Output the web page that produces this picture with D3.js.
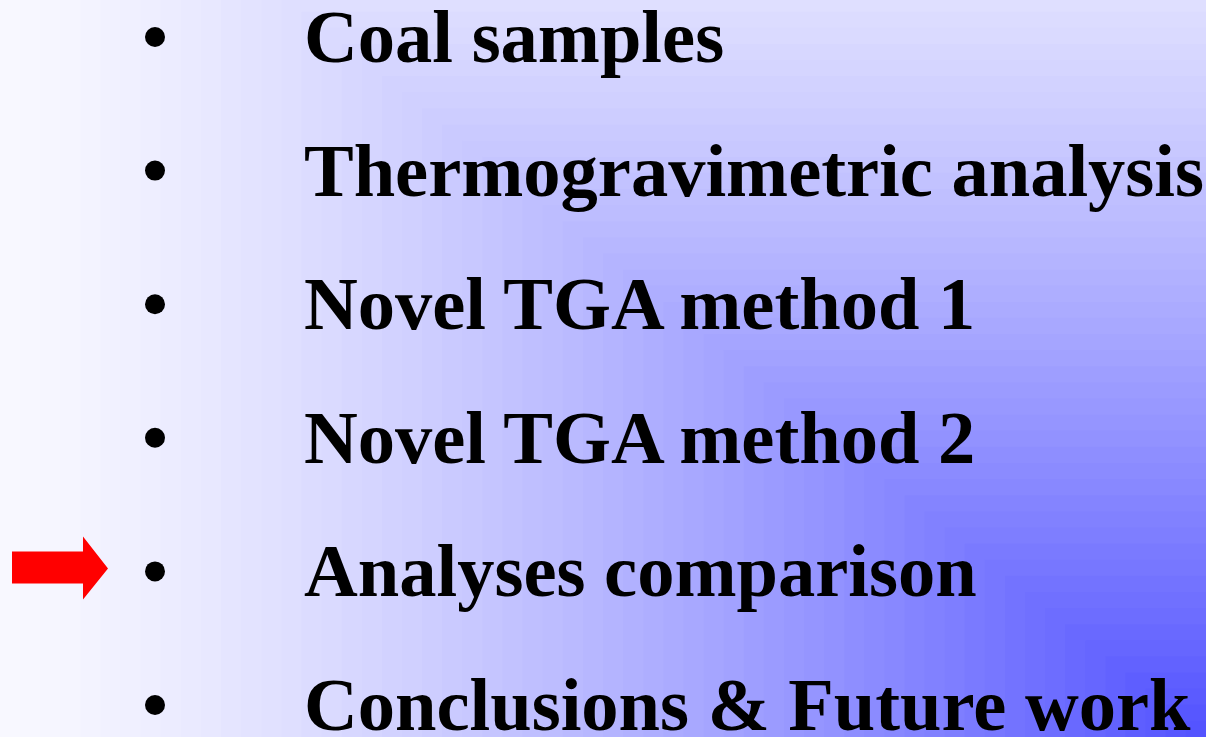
<!DOCTYPE html>
<html>
<head>
<meta charset="utf-8">
<script src="https://cdn.jsdelivr.net/npm/d3@7"></script>
<style>
  html, body { margin: 0; padding: 0; overflow: hidden; }
  svg { display: block; }
</style>
</head>
<body>
<svg id="slide"></svg>
<script>
// outline items of the slide, the current one gets the red arrow
const items = [
  'Coal samples',
  'Thermogravimetric analysis',
  'Novel TGA method 1',
  'Novel TGA method 2',
  'Analyses comparison',
  'Conclusions & Future work'
];
const current = ['Analyses comparison'];

(function() {

const width = 1206;
const height = 737;

const svg = d3.select('#slide')
  .attr('width', width)
  .attr('height', height);

// corner gradient background (light lavender -> blue at bottom right)
const light = '#f8f8ff';
const dark = '#5050ff';
const shade = d3.scaleLinear()
  .domain([0, 1])
  .range([light, dark])
  .interpolate(d3.interpolateRgb);

const steps = d3.range(0, 1, 1 / 60);
const yOff = 230;

svg.append('g')
  .selectAll('rect')
  .data(steps)
  .enter().append('rect')
    .attr('x', s => s * width)
    .attr('y', s => Math.max(0, s * (height + yOff) - yOff))
    .attr('width', s => width - s * width)
    .attr('height', s => height - Math.max(0, s * (height + yOff) - yOff))
    .attr('fill', s => shade(Math.pow(s, 1.3)));

// rows
const y = d3.scalePoint()
  .domain(items)
  .range([62, 730]);

const row = svg.selectAll('.row')
  .data(items)
  .enter().append('g')
    .attr('class', 'row')
    .attr('transform', d => `translate(0,${y(d)})`);

row.append('circle')
  .attr('cx', 155)
  .attr('cy', -25)
  .attr('r', 10)
  .attr('fill', '#000');

row.append('text')
  .attr('x', 304)
  .attr('y', 0)
  .style('font-family', '"Liberation Serif", "Times New Roman", serif')
  .style('font-weight', 'bold')
  .style('font-size', '74.5px')
  .attr('fill', '#000')
  .text(d => d);

// red block arrow pointing at the current item
row.filter(d => current.includes(d))
  .append('path')
    .attr('d', 'M12,-45 L83,-45 L83,-60 L108,-28 L83,3 L83,-13 L12,-13 Z')
    .attr('fill', '#ff0000');

})();
</script>
</body>
</html>
